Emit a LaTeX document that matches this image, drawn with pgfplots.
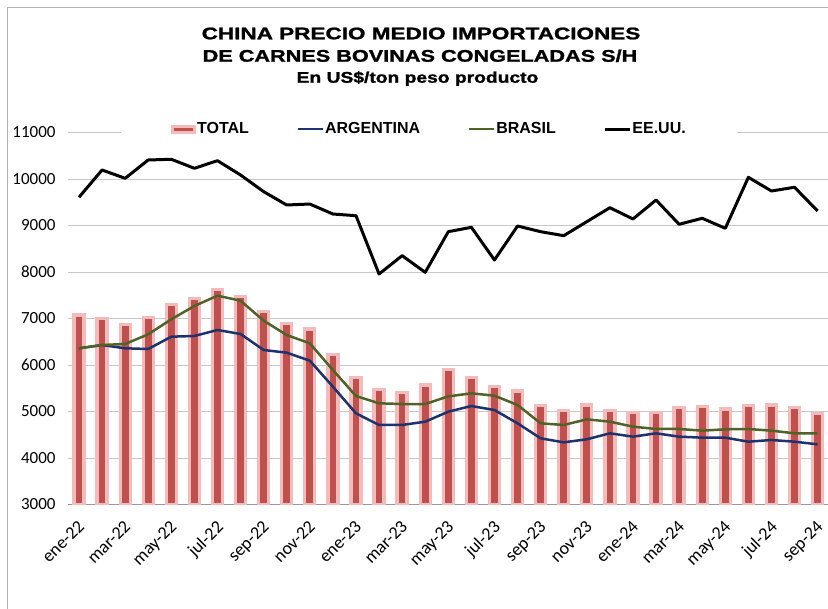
\documentclass[border=0pt]{standalone}
\usepackage{pgfplots}
\usepackage{pgfplotstable}
\pgfplotsset{compat=1.18}
\usepackage{fontspec}
\setmainfont{Carlito}
\newfontfamily\arial{Liberation Sans}
\newfontfamily\arialheavy{Liberation Sans}[BoldFeatures={FakeBold=1.2}]
\definecolor{barred}{RGB}{192,80,77}
\definecolor{barpink}{RGB}{242,188,188}
\definecolor{argblue}{RGB}{30,50,110}
\definecolor{bragreen}{RGB}{79,98,40}
\definecolor{gridgray}{RGB}{200,200,200}

\pgfplotstableread{
i  total arg  bra  usa
0  7075  6359 6359 9607
1  7005  6430 6430 10194
2  6875  6359 6452 10015
3  7020  6344 6660 10409
4  7305  6609 6983 10424
5  7435  6624 7269 10230
6  7625  6753 7491 10394
7  7470  6667 7383 10086
8  7145  6323 6953 9728
9  6895  6265 6645 9441
10 6775  6093 6466 9462
11 6230  5534 5892 9247
12 5735  4961 5333 9211
13 5475  4710 5176 7957
14 5410  4710 5161 8351
15 5570  4781 5161 7993
16 5900  4996 5325 8867
17 5735  5118 5391 8961
18 5545  5032 5340 8258
19 5440  4746 5140 8989
20 5125  4423 4746 8867
21 5025  4337 4710 8781
22 5140  4402 4832 9082
23 5020  4531 4781 9383
24 4975  4459 4674 9140
25 4975  4531 4624 9548
26 5080  4459 4624 9026
27 5105  4437 4588 9155
28 5055  4437 4617 8940
29 5125  4351 4624 10036
30 5140  4387 4588 9742
31 5080  4351 4531 9822
32 4960  4294 4531 9312
}\datatable

\begin{document}
\begin{tikzpicture}
\path[use as bounding box] (0bp,0bp) rectangle (828bp,609bp);
\draw[gray!60, line width=1bp] (7bp,0bp) -- (7bp,601.5bp) -- (828bp,601.5bp);
\node[anchor=base, inner sep=0pt, font=\arialheavy\bfseries\fontsize{16.8bp}{20bp}\selectfont] at (421bp,569.7bp) {\scalebox{1.34}[1]{CHINA PRECIO MEDIO IMPORTACIONES}};
\node[anchor=base, inner sep=0pt, font=\arialheavy\bfseries\fontsize{16.8bp}{20bp}\selectfont] at (420bp,547.3bp) {\scalebox{1.29}[1]{DE CARNES BOVINAS CONGELADAS S/H}};
\node[anchor=base, inner sep=0pt, font=\arialheavy\bfseries\fontsize{15.4bp}{18bp}\selectfont] at (417.5bp,526.3bp) {\scalebox{1.25}[1]{En US\$/ton peso producto}};
\begin{axis}[
  at={(68bp,104.5bp)}, anchor=south west,
  scale only axis, width=760bp, height=372bp,
  xmin=-0.476, xmax=32.45, ymin=3000, ymax=11000,
  axis x line*=bottom, axis y line*=left,
  x axis line style={-, draw=gray!80, line width=1bp},
  y axis line style={draw=none},
  major tick length=0pt,
  ytick={3000,4000,...,11000},
  scaled y ticks=false,
  ymajorgrids, grid style={gridgray, line width=1bp},
  /pgf/number format/1000 sep={},
  /pgf/number format/assume math mode=true,
  yticklabel style={font=\fontsize{17bp}{20bp}\selectfont, xshift=-9bp},
  xtick={0,2,...,32},
  xticklabels={ene-22,mar-22,may-22,jul-22,sep-22,nov-22,ene-23,mar-23,may-23,jul-23,sep-23,nov-23,ene-24,mar-24,may-24,jul-24,sep-24},
  xticklabel style={xshift=-2bp, yshift=-14bp, rotate=45, anchor=north east, inner sep=0.5bp, font=\fontsize{18bp}{20bp}\selectfont},
  legend columns=-1,
  legend style={at={(rel axis cs:0.4749,1.0094)}, anchor=center, draw=none, fill=white,
    font=\arial\bfseries\fontsize{16bp}{18bp}\selectfont, inner xsep=50bp, inner ysep=1bp,
    nodes={inner sep=0.8bp},
    /tikz/every even column/.append style={column sep=47bp}},
  legend image code/.code={\draw[#1] (0bp,0bp) -- (25bp,0bp);},
]
\addplot[ybar, bar width=10bp, fill=barred, draw=barpink, line width=3.3bp,
  legend image code/.code={\draw[fill=barred, draw=barpink, line width=3bp] (1.5bp,-3bp) rectangle (23.5bp,3bp);}]
  table[x=i, y=total] {\datatable};
\addplot[argblue, line width=2.5bp, line join=round] table[x=i, y=arg] {\datatable};
\addplot[bragreen, line width=2.5bp, line join=round] table[x=i, y=bra] {\datatable};
\addplot[black, line width=3bp, line join=round] table[x=i, y=usa] {\datatable};
\legend{TOTAL, ARGENTINA, BRASIL, EE.UU.}
\end{axis}
\end{tikzpicture}
\end{document}
